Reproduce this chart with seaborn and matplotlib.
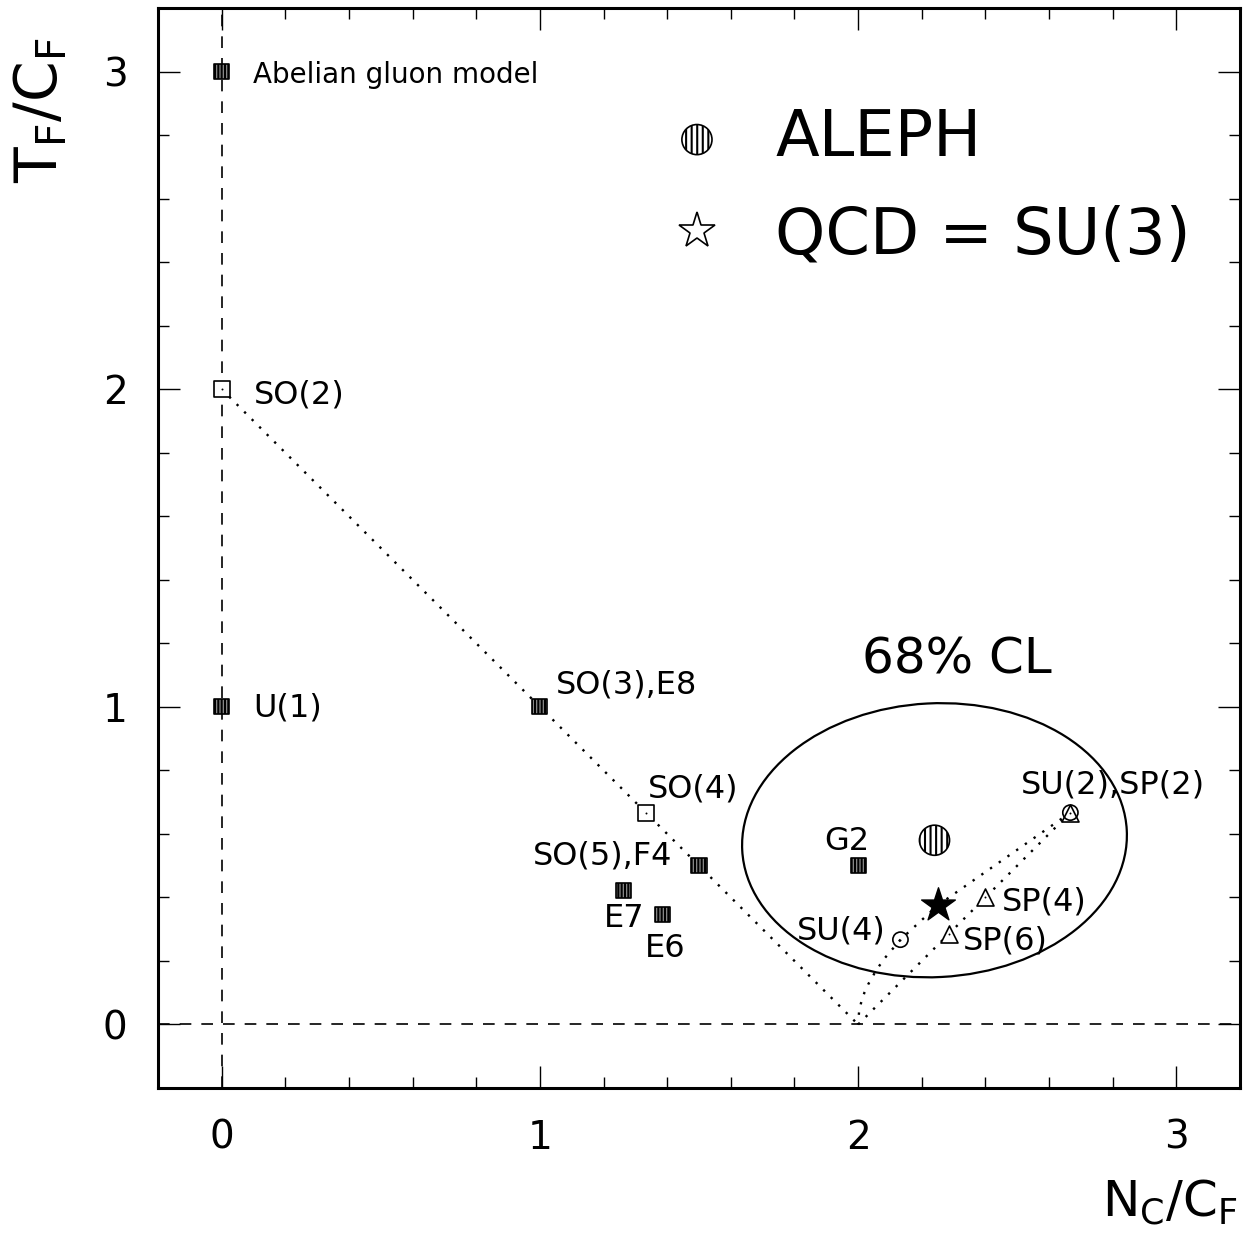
import numpy as np
import pandas as pd
import matplotlib
matplotlib.use('Agg')
import matplotlib.pyplot as plt
import matplotlib.patches as patches
from matplotlib.lines import Line2D
from matplotlib.ticker import MultipleLocator
import seaborn as sns

# gauge groups: N_C/C_F vs T_F/C_F
groups = ['Abelian gluon model', 'U(1)', 'SO(2)', 'SO(3),E8', 'SO(4)', 'SO(5),F4',
          'E7', 'E6', 'G2', 'SU(4)', 'SU(2),SP(2)', 'SP(4)', 'SP(6)']
nc_cf = [0.0, 0.0, 0.0, 1.0, 1.333, 1.5, 1.263, 1.385, 2.0, 2.133, 2.667, 2.4, 2.286]
tf_cf = [3.0, 1.0, 2.0, 1.0, 0.667, 0.5, 0.421, 0.346, 0.5, 0.267, 0.667, 0.4, 0.286]
family = ['hatched', 'hatched', 'SO', 'hatched', 'SO', 'hatched',
          'hatched', 'hatched', 'hatched', 'SU', 'SU/SP', 'SP', 'SP']

# SO(N) line, SU(N) curve (N=2,3,4,5,6,8,10,15,25,inf), SP(N) line
so_line_x = [0.0, 2.0]
so_line_y = [2.0, 0.0]
su_curve_x = [2.667, 2.25, 2.133, 2.083, 2.057, 2.032, 2.020, 2.009, 2.003, 2.0]
su_curve_y = [0.667, 0.375, 0.267, 0.208, 0.171, 0.127, 0.101, 0.067, 0.040, 0.0]
sp_line_x = [2.667, 2.0]
sp_line_y = [0.667, 0.0]

# measurement and 68% CL contour
aleph_x, aleph_y = 2.24, 0.58
cl68_w, cl68_h, cl68_angle = 1.21, 0.862, 3.0
qcd_x, qcd_y = 2.25, 0.375

# label placement (x, y, ha)
label_pos = {
    'Abelian gluon model': (0.10, 2.99, 'left'),
    'U(1)': (0.10, 0.995, 'left'),
    'SO(2)': (0.10, 1.983, 'left'),
    'SO(3),E8': (1.05, 1.07, 'left'),
    'SO(4)': (1.34, 0.74, 'left'),
    'SO(5),F4': (1.415, 0.529, 'right'),
    'E7': (1.264, 0.335, 'center'),
    'E6': (1.393, 0.239, 'center'),
    'G2': (1.965, 0.576, 'center'),
    'SU(4)': (2.085, 0.293, 'right'),
    'SU(2),SP(2)': (2.80, 0.755, 'center'),
    'SP(4)': (2.453, 0.384, 'left'),
    'SP(6)': (2.33, 0.264, 'left'),
}

sns.set_style('white')
plt.rcParams['font.family'] = ['DejaVu Sans']
plt.rcParams['mathtext.fontset'] = 'dejavusans'
plt.rcParams['hatch.linewidth'] = 1.5
plt.rcParams['text.color'] = 'black'
plt.rcParams['xtick.color'] = 'black'
plt.rcParams['ytick.color'] = 'black'
plt.rcParams['axes.labelcolor'] = 'black'

df = pd.DataFrame({'group': groups, 'x': nc_cf, 'y': tf_cf, 'family': family})

fig = plt.figure(figsize=(12.53, 12.35), dpi=100)
ax = fig.add_axes([158/1253, 1 - 1088/1235, 1082/1253, 1080/1235])

ax.axhline(0, color='black', lw=1.2, ls=(0, (7, 6)), zorder=1)
ax.axvline(0, color='black', lw=1.2, ls=(0, (7, 6)), zorder=1)

dot = (0, (1, 3.5))
ax.plot(so_line_x, so_line_y, color='black', lw=1.7, ls=dot)
ax.plot(su_curve_x, su_curve_y, color='black', lw=1.7, ls=dot)
ax.plot(sp_line_x, sp_line_y, color='black', lw=1.7, ls=dot)

ax.add_patch(patches.Ellipse((aleph_x, aleph_y), cl68_w, cl68_h, angle=cl68_angle,
                             fill=False, ec='black', lw=1.6))

hat = df[df['family'] == 'hatched']
sns.scatterplot(data=hat, x='x', y='y', marker='s', s=120, color='0.55',
                edgecolor='black', linewidth=1.2, hatch='|||||', ax=ax, zorder=5)
so = df[df['family'] == 'SO']
sns.scatterplot(data=so, x='x', y='y', marker='s', s=120, color='white',
                edgecolor='black', linewidth=1.2, ax=ax, zorder=5)
sp = df[df['family'].str.contains('SP')]
sns.scatterplot(data=sp, x='x', y='y', marker='^', s=150, color='white',
                edgecolor='black', linewidth=1.2, ax=ax, zorder=5)
su = df[df['family'].str.contains('SU')]
sns.scatterplot(data=su, x='x', y='y', marker='o', s=120, color='none',
                edgecolor='black', linewidth=1.2, ax=ax, zorder=6)
opn = df[df['family'] != 'hatched']
sns.scatterplot(data=opn, x='x', y='y', marker='.', s=8, color='black',
                edgecolor='black', linewidth=0, ax=ax, zorder=7)

sns.scatterplot(x=[aleph_x], y=[aleph_y], marker='o', s=470, color='white',
                edgecolor='black', linewidth=1.2, hatch='|||', ax=ax, zorder=6)
aleph_handle = ax.collections[-1]
sns.scatterplot(x=[qcd_x], y=[qcd_y], marker='*', s=650, color='black',
                edgecolor='black', linewidth=1, ax=ax, zorder=8)

for name, (tx, ty, ha) in label_pos.items():
    fs = 20 if name.startswith('Abelian') else 23
    ax.text(tx, ty, name, ha=ha, va='center', fontsize=fs, color='black')
ax.text(2.013, 1.149, '68% CL', ha='left', va='center', fontsize=36)

star_handle = Line2D([], [], marker='*', ls='', markersize=27,
                     markerfacecolor='white', markeredgecolor='black', markeredgewidth=1.2)
ax.legend(handles=[aleph_handle, star_handle], labels=['ALEPH', 'QCD = SU(3)'],
          loc='upper left', bbox_to_anchor=(0.473, 0.908), frameon=False,
          fontsize=46, handlelength=0.85, handletextpad=0.8, labelspacing=0.55,
          borderpad=0, borderaxespad=0, scatterpoints=1)

ax.set_xlim(-0.2, 3.2)
ax.set_ylim(-0.2, 3.2)
ax.set_xticks([0, 1, 2, 3])
ax.set_yticks([0, 1, 2, 3])
ax.xaxis.set_minor_locator(MultipleLocator(0.2))
ax.yaxis.set_minor_locator(MultipleLocator(0.2))
ax.tick_params(which='both', direction='in', top=True, right=True,
               bottom=True, left=True, color='black')
ax.tick_params(which='major', length=16, width=1.0, labelsize=28)
ax.tick_params(which='minor', length=8, width=1.0)
ax.tick_params(axis='x', pad=22)
ax.tick_params(axis='y', pad=22)
for sp_ in ax.spines.values():
    sp_.set_color('black')
    sp_.set_linewidth(2.2)

ax.set_xlabel(r'$\mathsf{N_C/C_F}$', fontsize=36, ha='right')
ax.set_ylabel(r'$\mathsf{T_F/C_F}$', fontsize=42)
ax.xaxis.set_label_coords(0.998, -0.083)
ax.yaxis.set_label_coords(-0.082, 0.905)

fig.savefig('out.png', dpi=100)
